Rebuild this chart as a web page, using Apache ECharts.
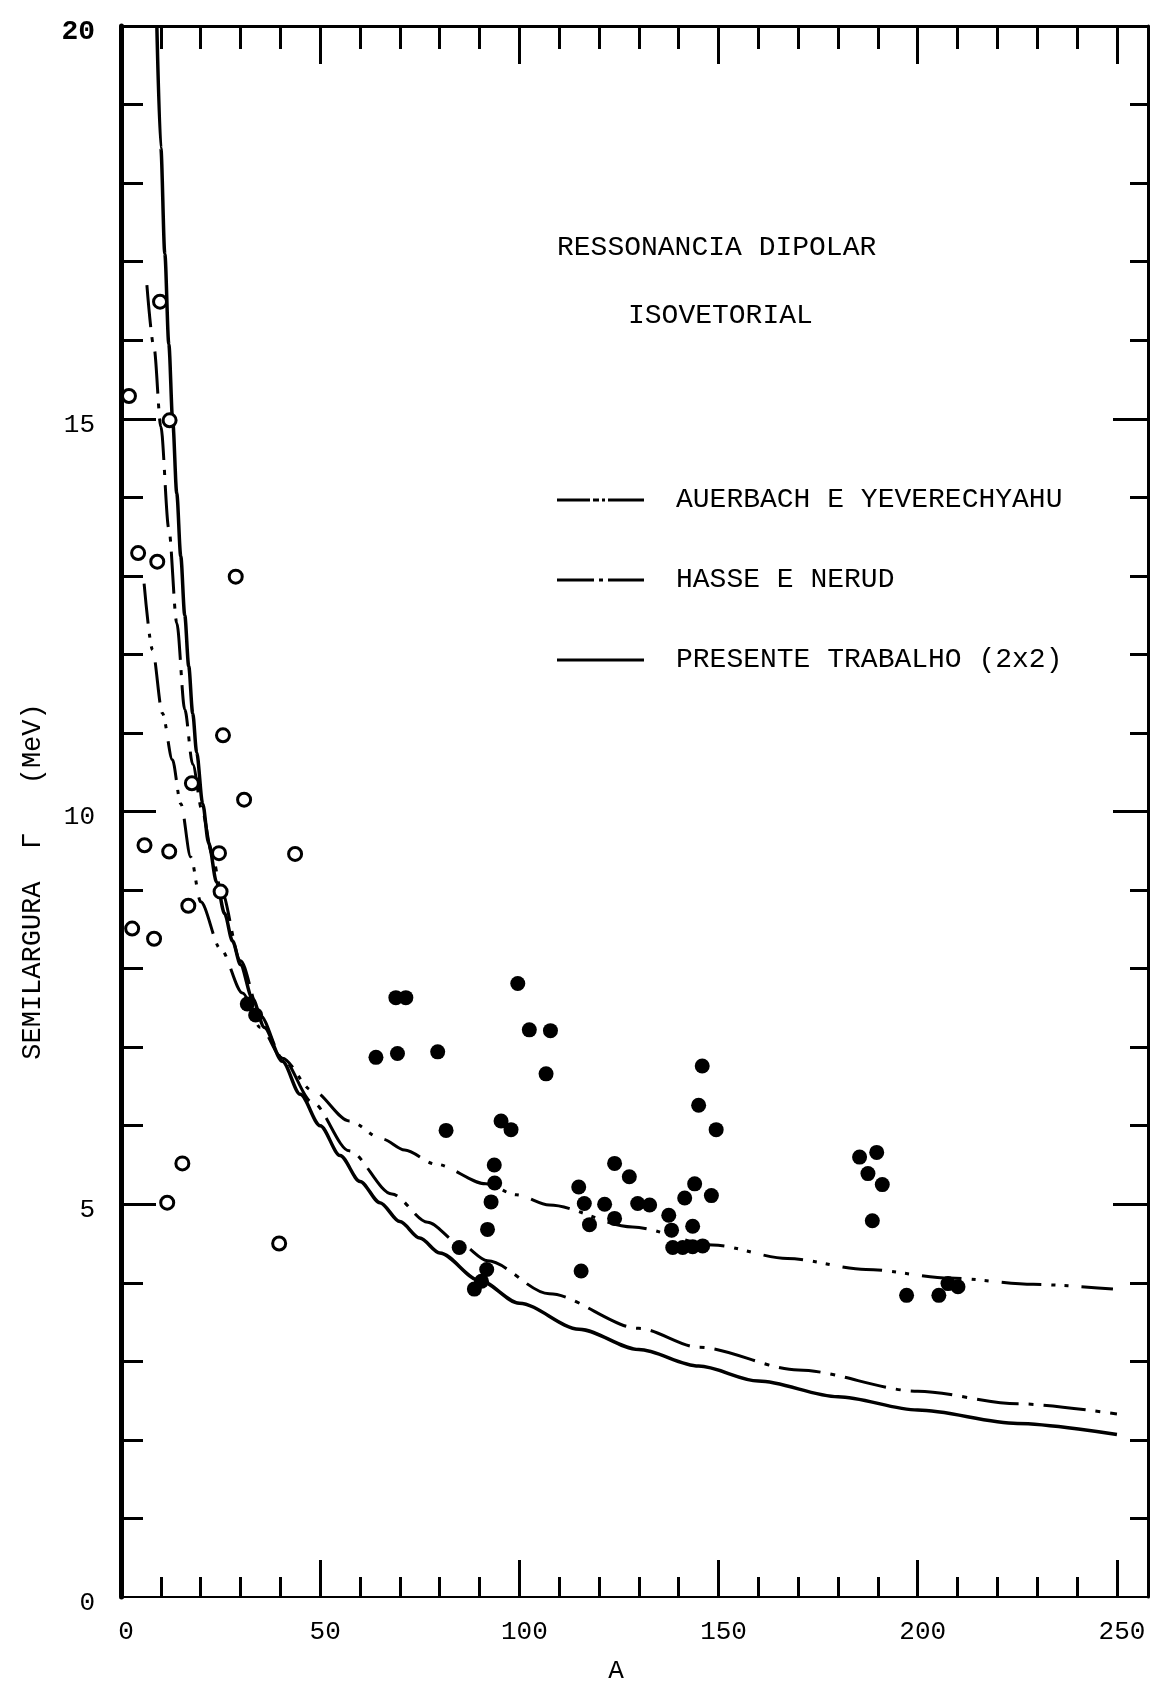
<!DOCTYPE html>
<html>
<head>
<meta charset="utf-8">
<script src="https://cdn.jsdelivr.net/npm/echarts@6/dist/echarts.min.js"></script>
<style>
html, body { margin: 0; padding: 0; background: #fff; }
#chart { width: 1152px; height: 1690px; }
</style>
</head>
<body>
<div id="chart"></div>
<script>
// Isovector giant dipole resonance: half-width Γ (MeV) versus mass number A.

// Tick labels and tick positions
const xTickLabels = [0, 50, 100, 150, 200, 250];
const yTickLabels = [0, 5, 10, 15, 20];
const xMinorTicks = [10, 20, 30, 40, 60, 70, 80, 90, 110, 120, 130, 140, 160, 170, 180, 190, 210, 220, 230, 240];
const xMajorTicks = [50, 100, 150, 200, 250];
const yMinorTicks = [1, 2, 3, 4, 6, 7, 8, 9, 11, 12, 13, 14, 16, 17, 18, 19];
const yMajorTicks = [5, 10, 15];

// Auerbach & Yeverechyahu
const auerbachA = [5.8, 7.9, 10.4, 12.9, 15, 17.5, 20, 25, 30.5, 35, 40.5, 48, 57.3, 65.6, 71.2, 79, 91.6, 99.2, 107.5, 128.4, 148.5, 167.3, 187, 208, 229, 249];
const auerbachG = [12.9, 12.06, 11.25, 10.66, 10.1, 9.42, 8.85, 8.25, 7.69, 7.25, 6.86, 6.45, 6.06, 5.83, 5.69, 5.51, 5.26, 5.12, 4.99, 4.71, 4.48, 4.31, 4.17, 4.06, 3.98, 3.92];

// Hasse & Nerud
const hasseA = [6.5, 8.3, 10, 12, 14, 16, 18, 20.4, 22.9, 25.1, 30, 35, 40.5, 48, 57.3, 68, 77, 85, 92, 107.5, 130, 145, 170, 200, 225, 250];
const hasseG = [16.7, 15.9, 14.9, 13.6, 12.4, 11.3, 10.6, 10.0, 9.45, 9.0, 8.1, 7.4, 6.86, 6.3, 5.68, 5.13, 4.77, 4.50, 4.28, 3.86, 3.42, 3.18, 2.89, 2.62, 2.46, 2.33];

// Present work (2x2)
const presenteA = [9, 10, 11, 12, 13, 14, 15, 16, 17, 18, 19, 20.5, 22, 24, 26, 28, 30, 33, 36, 40.5, 45, 50, 55, 60, 65, 70, 75, 80, 90, 100, 115, 130, 145, 160, 180, 200, 225, 250];
const presenteG = [20.0, 18.45, 17.1, 15.95, 14.95, 14.05, 13.25, 12.5, 11.85, 11.25, 10.75, 10.1, 9.6, 9.1, 8.7, 8.35, 8.05, 7.62, 7.25, 6.82, 6.40, 6.0, 5.62, 5.29, 5.02, 4.78, 4.57, 4.38, 4.03, 3.74, 3.41, 3.15, 2.94, 2.75, 2.55, 2.38, 2.21, 2.07];

// Measured widths, light nuclei (open circles)
const openA = [2.0, 9.8, 12.2, 4.3, 9.1, 28.8, 25.6, 30.9, 17.8, 5.9, 12.1, 24.6, 43.7, 25.0, 16.9, 2.8, 8.3, 15.4, 11.6, 39.7];
const openG = [15.29, 16.49, 14.98, 13.29, 13.18, 12.99, 10.97, 10.15, 10.36, 9.57, 9.49, 9.47, 9.46, 8.98, 8.8, 8.51, 8.38, 5.52, 5.02, 4.5];

// Measured widths, medium and heavy nuclei (filled circles)
const filledA = [31.7, 33.8, 64.0, 69.0, 71.5, 69.4, 79.5, 81.6, 84.9, 88.7, 90.5, 91.8, 92.0, 92.9, 93.8, 93.7, 95.4, 97.9, 99.6, 102.5, 107.8, 106.7, 114.9, 115.5, 116.3, 117.6, 121.4, 123.9, 123.9, 127.6, 129.7, 132.7, 137.5, 138.2, 138.5, 141, 143.5, 146, 141.5, 143.5, 144, 145, 145.9, 148.2, 149.4, 185.4, 187.5, 188.6, 189.7, 191.1, 197.2, 205.3, 207.6, 210.1];
const filledG = [7.55, 7.41, 6.87, 7.63, 7.63, 6.92, 6.94, 5.94, 4.45, 3.92, 4.02, 4.17, 4.68, 5.03, 5.27, 5.5, 6.06, 5.95, 7.81, 7.22, 7.21, 6.66, 5.22, 4.15, 5.01, 4.74, 5.0, 4.82, 5.52, 5.35, 5.01, 4.99, 4.86, 4.67, 4.45, 4.45, 4.46, 4.47, 5.08, 4.72, 5.26, 6.26, 6.76, 5.11, 5.95, 5.6, 5.39, 4.79, 5.66, 5.25, 3.84, 3.84, 3.99, 3.95];

const seriesNames = ['AUERBACH E YEVERECHYAHU', 'HASSE E NERUD', 'PRESENTE TRABALHO (2x2)'];
const titleLines = ['RESSONANCIA DIPOLAR', 'ISOVETORIAL'];
const xName = 'A';
const yName = 'SEMILARGURA  \u0393   (MeV)';

const FONT = '"Liberation Mono", "DejaVu Sans Mono", monospace';
const INK = '#000';
const X_MAX = 257.8;

// Dash patterns of the model curves (px), mirrored by the legend keys
const auerbachDash = [40, 10, 4, 9, 4, 13];
const hasseDash = [42, 10, 5, 10];
const legendKeys = [
  'path://M0,0H33V3H0Z M36,0H42V3H36Z M45,0H48V3H45Z M51,0H87V3H51Z',
  'path://M0,0H37V3H0Z M42,0H46V3H42Z M51,0H87V3H51Z',
  'path://M0,0H87V3H0Z'
];

const pairs = (xs, ys) => xs.map((x, i) => [x, ys[i]]);

function xAxisDef(position, ticks, tickLen, lineWidth, withLabels) {
  return {
    type: 'value', position: position, min: 0, max: X_MAX,
    axisLine: { show: lineWidth > 0, onZero: false, lineStyle: { color: INK, width: lineWidth } },
    axisTick: { show: true, inside: true, length: tickLen, customValues: ticks, lineStyle: { color: INK, width: 3 } },
    axisLabel: withLabels ? {
      customValues: xTickLabels, margin: 22, color: INK, fontFamily: FONT, fontSize: 26,
      padding: [0, 0, 0, 10]
    } : { show: false },
    splitLine: { show: false }
  };
}

function yAxisDef(position, ticks, tickLen, lineWidth, withLabels) {
  return {
    type: 'value', position: position, min: 0, max: 20,
    axisLine: { show: lineWidth > 0, onZero: false, lineStyle: { color: INK, width: lineWidth } },
    axisTick: { show: true, inside: true, length: tickLen, customValues: ticks, lineStyle: { color: INK, width: 3 } },
    axisLabel: withLabels ? {
      customValues: yTickLabels, margin: 26, color: INK, fontFamily: FONT, fontSize: 26,
      verticalAlign: 'middle', verticalAlignMinLabel: 'middle', verticalAlignMaxLabel: 'middle',
      padding: [12, 0, 0, 0],
      formatter: v => (v === 20 ? '{b|20}' : String(v)),
      rich: { b: { fontFamily: FONT, fontSize: 28, fontWeight: 'bold', color: INK } }
    } : { show: false },
    splitLine: { show: false }
  };
}

const xBottom = xAxisDef('bottom', xMinorTicks, 20, 2, true);
xBottom.name = xName;
xBottom.nameLocation = 'middle';
xBottom.nameGap = 61;
xBottom.nameMoveOverlap = false;
xBottom.nameTextStyle = { fontFamily: FONT, fontSize: 26, color: INK, padding: [0, 37, 0, 0] };

const yLeft = yAxisDef('left', yMinorTicks, 22, 5, true);
yLeft.name = yName;
yLeft.nameLocation = 'middle';
yLeft.nameRotate = 90;
yLeft.nameGap = 75;
yLeft.nameTextStyle = { fontFamily: FONT, fontSize: 27, color: INK, padding: [0, 140, 0, 0] };

const textStyle = { fontFamily: FONT, fontSize: 28, fontWeight: 'normal', color: INK, lineHeight: 28 };

function curve(name, xs, ys, width, dash) {
  return {
    name: name, type: 'line', data: pairs(xs, ys),
    symbol: 'none', smooth: 0.3, smoothMonotone: 'x', z: 3,
    itemStyle: { color: INK },
    lineStyle: { color: INK, width: width, type: dash }
  };
}

const option = {
  backgroundColor: '#fff',
  animation: false,
  grid: { left: 121, right: 4, top: 26, bottom: 93, containLabel: false, outerBoundsMode: 'none' },
  title: [
    { text: titleLines[0], left: 557, top: 234, padding: 0, textStyle: textStyle },
    { text: titleLines[1], left: 628, top: 302, padding: 0, textStyle: textStyle }
  ],
  legend: {
    data: seriesNames.map((n, i) => ({ name: n, icon: legendKeys[i] })),
    orient: 'vertical',
    left: 557, top: 485, padding: 0,
    itemWidth: 87, itemHeight: 3, itemGap: 50,
    selectedMode: false,
    itemStyle: { color: INK, opacity: 1 },
    textStyle: { fontFamily: FONT, fontSize: 28, color: INK, lineHeight: 30, padding: [0, 0, 0, 27] }
  },
  xAxis: [
    xBottom,
    xAxisDef('bottom', xMajorTicks, 37, 0, false),
    xAxisDef('top', xMinorTicks, 23, 3, false),
    xAxisDef('top', xMajorTicks, 38, 0, false)
  ],
  yAxis: [
    yLeft,
    yAxisDef('left', yMajorTicks, 35, 0, false),
    yAxisDef('right', yMinorTicks, 18, 3, false),
    yAxisDef('right', yMajorTicks, 35, 0, false)
  ],
  series: [
    curve(seriesNames[0], auerbachA, auerbachG, 3, auerbachDash),
    curve(seriesNames[1], hasseA, hasseG, 3, hasseDash),
    curve(seriesNames[2], presenteA, presenteG, 3.5, 'solid'),
    {
      name: 'open', type: 'scatter', data: pairs(openA, openG),
      symbol: 'circle', symbolSize: 13, z: 5,
      itemStyle: { color: '#fff', borderColor: INK, borderWidth: 3, opacity: 1 }
    },
    {
      name: 'filled', type: 'scatter', data: pairs(filledA, filledG),
      symbol: 'circle', symbolSize: 15, z: 5,
      itemStyle: { color: INK, opacity: 1 }
    }
  ]
};

const chart = echarts.init(document.getElementById('chart'), null, { renderer: 'canvas' });
chart.setOption(option);
</script>
</body>
</html>
